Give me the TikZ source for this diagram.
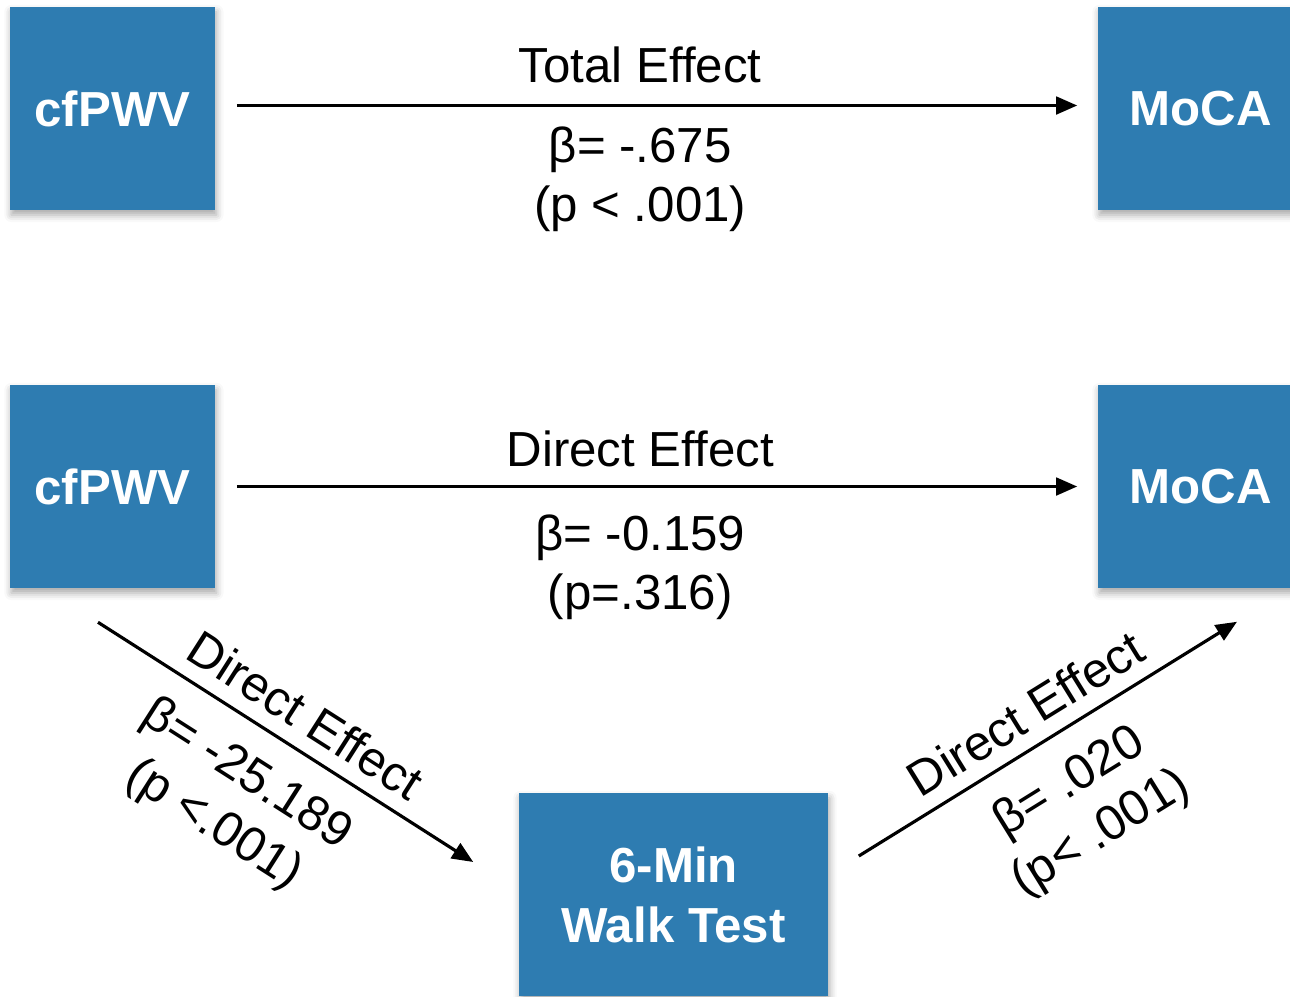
\documentclass[tikz,border=0pt]{standalone}
\usepackage{fontspec}
\setmainfont{Liberation Sans}
\definecolor{boxblue}{RGB}{46,124,177}
\usetikzlibrary{arrows.meta,positioning,calc,shadows.blur}

\begin{document}
\begin{tikzpicture}[x=0.01cm, y=-0.01cm,
  var/.style={fill=boxblue, minimum width=2.05cm, minimum height=2.03cm, inner sep=2pt, align=center, text=white,
    font=\fontsize{14}{17}\selectfont\bfseries,
    blur shadow={shadow xshift=0.4pt, shadow yshift=-1.4pt, shadow blur radius=2pt, shadow opacity=35}},
  eff/.style={-{Triangle[length=6pt,width=5pt]}, line width=0.9pt},
  lbl/.style={font=\fontsize{14}{17}\selectfont, inner sep=2pt, align=center}]
  \useasboundingbox (0,0) rectangle (1290,996);

  % top panel: total effect
  \node[var] (cf1) at (112.5,108.5) {cfPWV};
  \node[var] (mo1) at (1200.5,108.5) {MoCA};
  \draw[eff] ([shift={(21,-3)}]cf1.east) -- ([shift={(-20,-3)}]mo1.west)
    node[lbl, pos=0.48, above=4pt] {Total Effect}
    node[lbl, pos=0.48, below=3.5pt] {β= -.675\\(p < .001)};

  % bottom panel: mediation
  \node[var] (cf2) at (112.5,486.5) {cfPWV};
  \node[var] (mo2) at (1200.5,486.5) {MoCA};
  \node[var, minimum width=3.09cm] (walk) at (673.5,894.5) {6-Min\\Walk Test};

  \coordinate (a1) at ([shift={(-14.5,33.5)}]cf2.south);
  \coordinate (a2) at ([shift={(-45,-32.5)}]walk.west);
  \coordinate (b1) at ([shift={(30,-38.5)}]walk.east);
  \coordinate (b2) at ([shift={(36.5,33)}]mo2.south);

  \draw[eff] ([shift={(21,0)}]cf2.east) -- ([shift={(-20,0)}]mo2.west)
    node[lbl, pos=0.48, above=3pt] {Direct Effect}
    node[lbl, pos=0.48, below=5.5pt] {β= -0.159\\(p=.316)};
  \draw[eff] (a1) -- (a2)
    node[lbl, pos=0.505, sloped, above=2pt] {Direct Effect}
    node[lbl, pos=0.465, sloped, below=5pt] {β= -25.189\\(p <.001)};
  \draw[eff] (b1) -- (b2)
    node[lbl, pos=0.487, sloped, above=2pt] {Direct Effect}
    node[lbl, pos=0.49, sloped, below=5pt] {β= .020\\(p< .001)};
\end{tikzpicture}
\end{document}
